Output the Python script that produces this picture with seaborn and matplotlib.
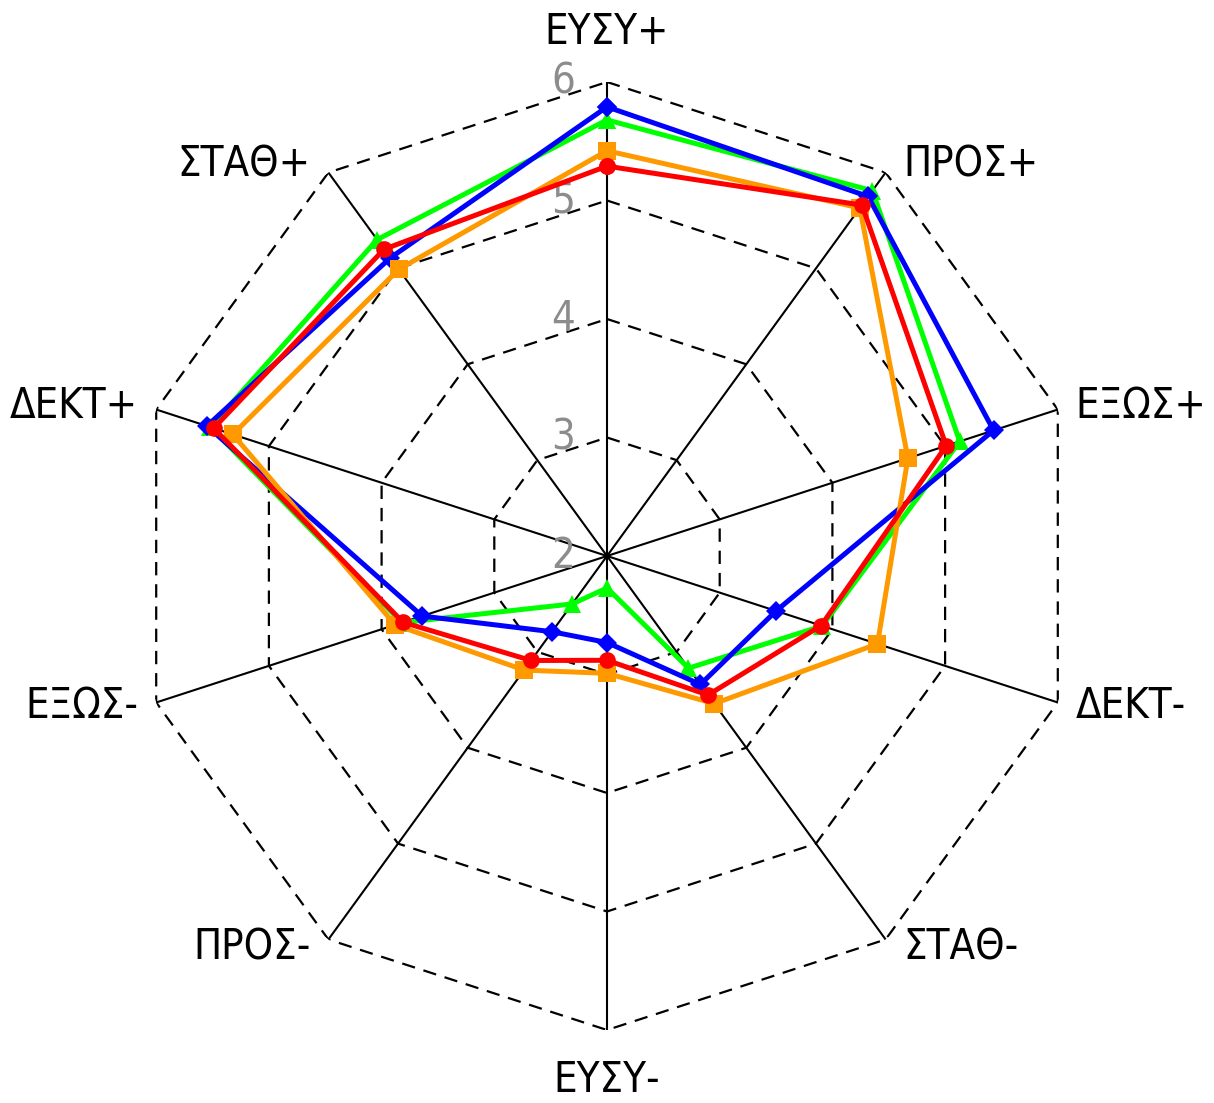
import numpy as np
import pandas as pd
import seaborn as sns
import matplotlib.pyplot as plt
import matplotlib.font_manager as fm

## axes of the radar, clockwise from the top
categories = ["ΕΥΣΥ+", "ΠΡΟΣ+", "ΕΞΩΣ+", "ΔΕΚΤ-", "ΣΤΑΘ-",
              "ΕΥΣΥ-", "ΠΡΟΣ-", "ΕΞΩΣ-", "ΔΕΚΤ+", "ΣΤΑΘ+"]

## values, one list per coloured line
green_vals = [5.68, 5.81, 5.13, 3.91, 3.17, 2.27, 2.50, 3.82, 5.52, 5.30]
blue_vals = [5.79, 5.75, 5.43, 3.50, 3.34, 2.73, 2.79, 3.64, 5.55, 5.11]
orange_vals = [5.42, 5.63, 4.67, 4.40, 3.54, 2.99, 3.19, 3.88, 5.32, 4.99]
red_vals = [5.29, 5.66, 5.01, 3.90, 3.45, 2.88, 3.09, 3.81, 5.49, 5.20]

levels = [2, 3, 4, 5, 6]

sns.set_style("white")

## pick a narrow font if one is installed
installed = fm.fontManager.ttflist
if any(f.name == "Liberation Sans Narrow" for f in installed):
    fam, stretch, fsize = "Liberation Sans Narrow", "normal", 30
elif any(f.name == "DejaVu Sans" and f.stretch in ("condensed", 500 - 125) for f in installed):
    fam, stretch, fsize = "DejaVu Sans", "condensed", 30
else:
    fam, stretch, fsize = "Roboto", "normal", 28
plt.rcParams["font.family"] = [fam, "DejaVu Sans"]
plt.rcParams["font.stretch"] = stretch
plt.rcParams["text.color"] = "black"

n = len(categories)
theta = np.linspace(0, 2 * np.pi, n, endpoint=False)
theta_closed = np.append(theta, 2 * np.pi)

fig = plt.figure(figsize=(12.14, 11.03), dpi=100)
ax = fig.add_axes([(607 - 474) / 1214, (1103 - 556 - 474) / 1103, 948 / 1214, 948 / 1103],
                  projection="polar")
ax.set_theta_offset(np.pi / 2)
ax.set_theta_direction(-1)
ax.set_ylim(2, 6)
ax.grid(False)
ax.spines["polar"].set_visible(False)
ax.set_xticks([])
ax.set_yticks([])

## dashed decagon grid and solid spokes
for lv in levels[1:]:
    ax.plot(theta_closed, [lv] * (n + 1), color="black", lw=1.6,
            linestyle=(0, (6, 4)), zorder=1)
for t in theta:
    ax.plot([t, t], [2, 6], color="black", lw=1.5, zorder=1)

## the four series
series = [
    ("green", green_vals, "#00ff00", "^", 13.5),
    ("blue", blue_vals, "#0000ff", "D", 10.5),
    ("orange", orange_vals, "#ff9900", "s", 13),
    ("red", red_vals, "#ff0000", "o", 12),
]
for i, (name, vals, col, mk, ms) in enumerate(series):
    df = pd.DataFrame({"theta": theta_closed, "value": vals + vals[:1]})
    sns.lineplot(data=df, x="theta", y="value", ax=ax, sort=False, estimator=None,
                 color=col, lw=3.6, marker=mk, markersize=ms, markeredgewidth=0,
                 zorder=3 + i)
ax.set_xlabel("")
ax.set_ylabel("")

## axis names around the outside
for t, lab in zip(theta, categories):
    s, c = np.sin(t), np.cos(t)
    if abs(s) < 0.01:
        dx, dy, ha = 0, 50 * np.sign(c), "center"
    else:
        dx, dy = 18 * np.sign(s), 10 * c
        ha = "left" if s > 0 else "right"
    ax.annotate(lab, xy=(t, 6), xytext=(dx, dy), textcoords="offset pixels",
                ha=ha, va="center", fontsize=fsize, annotation_clip=False)

## grey scale labels along the top spoke
for lv in levels:
    ax.annotate(str(lv), xy=(0, lv), xytext=(-32, 0), textcoords="offset pixels",
                ha="right", va="center", fontsize=fsize, color="#8c8c8c",
                annotation_clip=False, zorder=2)

fig.savefig("out.png", dpi=100)
